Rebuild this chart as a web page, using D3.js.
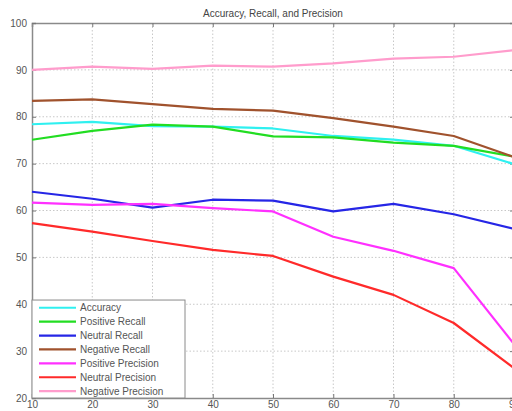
<!DOCTYPE html>
<html>
<head>
<meta charset="utf-8">
<script src="https://cdn.jsdelivr.net/npm/d3@7"></script>
<style>
    body { margin: 0; background: #fff; }
    svg { display: block; font-family: "Liberation Sans", Arial, sans-serif; }
</style>
</head>
<body>
<div id="chart"></div>
<script>
// Data
const steps = [10, 20, 30, 40, 50, 60, 70, 80, 90]
const seriesNames = ["Accuracy", "Positive Recall", "Neutral Recall", "Negative Recall",
    "Positive Precision", "Neutral Precision", "Negative Precision"]
const accuracy = [78.4, 78.9, 78.0, 77.9, 77.5, 75.9, 75.1, 73.8, 69.9]
const positiveRecall = [75.1, 77.0, 78.3, 77.9, 75.8, 75.6, 74.5, 73.8, 71.5]
const neutralRecall = [64.0, 62.5, 60.6, 62.3, 62.1, 59.8, 61.4, 59.2, 56.1]
const negativeRecall = [83.4, 83.7, 82.7, 81.7, 81.3, 79.7, 77.9, 75.9, 71.4]
const positivePrecision = [61.7, 61.2, 61.4, 60.5, 59.8, 54.4, 51.4, 47.7, 31.5]
const neutralPrecision = [57.3, 55.5, 53.5, 51.6, 50.3, 45.9, 42.0, 36.0, 26.4]
const negativePrecision = [90.0, 90.7, 90.2, 90.9, 90.7, 91.4, 92.4, 92.8, 94.2]
const yTicks = [20, 30, 40, 50, 60, 70, 80, 90, 100]

const seriesValues = [accuracy, positiveRecall, neutralRecall, negativeRecall,
    positivePrecision, neutralPrecision, negativePrecision]
const colors = ["#2ff0f0", "#22dd22", "#2626e6", "#a0522d", "#ff30ff", "#ff2a2a", "#ff9ccc"]

const series = seriesNames.map((name, i) => ({
    name: name,
    color: colors[i],
    values: steps.map((s, j) => ({ x: s, y: seriesValues[i][j] }))
}))

// Canvas Size (plot runs past the right edge, as in the picture)
const margin = { top: 23, left: 32 },
    width = 482,
    height = 375

const svg = d3.select("#chart")
    .append("svg")
    .attr("width", 512)
    .attr("height", 411)

const g = svg.append("g")
    .attr("transform", `translate(${margin.left},${margin.top})`)

const xScale = d3.scaleLinear().domain([10, 90]).range([0, width])
const yScale = d3.scaleLinear().domain([20, 100]).range([height, 0])

// Grid
g.append("g")
    .selectAll("line")
    .data(steps.slice(1, -1))
    .enter()
    .append("line")
    .attr("x1", d => xScale(d)).attr("x2", d => xScale(d))
    .attr("y1", 0).attr("y2", height)
    .attr("stroke", "#c8c8c8")
    .attr("stroke-dasharray", "1.5,2")

g.append("g")
    .selectAll("line")
    .data(yTicks.slice(1, -1))
    .enter()
    .append("line")
    .attr("x1", 0).attr("x2", width)
    .attr("y1", d => yScale(d)).attr("y2", d => yScale(d))
    .attr("stroke", "#c8c8c8")
    .attr("stroke-dasharray", "1.5,2")

// Axes
const xAxis = g.append("g")
    .attr("transform", `translate(0, ${height})`)
    .call(d3.axisBottom(xScale).tickValues(steps).tickSize(-4).tickPadding(3))

const xTop = g.append("g")
    .call(d3.axisTop(xScale).tickValues(steps).tickSize(-4).tickFormat(""))

const yAxis = g.append("g")
    .call(d3.axisLeft(yScale).tickValues(yTicks).tickSize(-4).tickPadding(5))

const yRight = g.append("g")
    .attr("transform", `translate(${width}, 0)`)
    .call(d3.axisRight(yScale).tickValues(yTicks).tickSize(-4).tickFormat(""))

for (const ax of [xAxis, xTop, yAxis, yRight]) {
    ax.selectAll(".domain").attr("stroke", "#8a8a8a").attr("stroke-width", 1.5)
    ax.selectAll(".tick line").attr("stroke", "#777")
    ax.selectAll("text")
        .attr("font-size", 10)
        .attr("fill", "#555")
        .attr("font-family", "Liberation Sans, Arial, sans-serif")
}

// Lines
const line = d3.line()
    .x(d => xScale(d.x))
    .y(d => yScale(d.y))

g.append("g")
    .selectAll("path")
    .data(series)
    .enter()
    .append("path")
    .attr("d", d => line(d.values))
    .attr("fill", "none")
    .attr("stroke", d => d.color)
    .attr("stroke-width", 2.2)
    .attr("stroke-linejoin", "round")

// Title
svg.append("text")
    .attr("x", margin.left + width / 2)
    .attr("y", 17)
    .attr("text-anchor", "middle")
    .attr("font-size", 10)
    .attr("fill", "#444")
    .text("Accuracy, Recall, and Precision")

// Legend
const legendTop = 40.9
const legend = g.append("g")
    .attr("transform", `translate(0, ${yScale(legendTop)})`)

const legendW = 153,
    legendH = height - yScale(legendTop),
    rowH = 13.9

legend.append("rect")
    .attr("width", legendW)
    .attr("height", legendH)
    .attr("fill", "#fff")
    .attr("stroke", "#8a8a8a")

legend.selectAll("line")
    .data(series)
    .enter()
    .append("line")
    .attr("x1", 7).attr("x2", 44)
    .attr("y1", (d, i) => 7.7 + i * rowH)
    .attr("y2", (d, i) => 7.7 + i * rowH)
    .attr("stroke", d => d.color)
    .attr("stroke-width", 2.2)

legend.selectAll("text")
    .data(series)
    .enter()
    .append("text")
    .attr("x", 48)
    .attr("y", (d, i) => 11.3 + i * rowH)
    .attr("font-size", 10)
    .attr("fill", "#555")
    .text(d => d.name)
</script>
</body>
</html>
